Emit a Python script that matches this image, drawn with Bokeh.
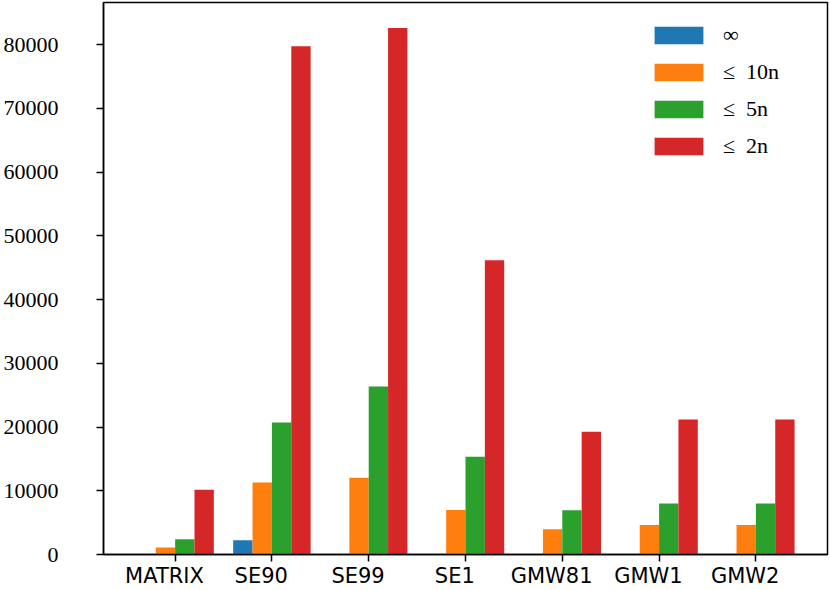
from bokeh.plotting import figure
from bokeh.models import (ColumnDataSource, Range1d, FixedTicker, Legend, LegendItem,
                          LinearAxis)
from bokeh.transform import dodge
from bokeh.embed import file_html
from bokeh.resources import INLINE

categories = ["MATRIX", "SE90", "SE99", "SE1", "GMW81", "GMW1", "GMW2"]
series_labels = ["∞", "≤\u200210n", "≤\u20025n", "≤\u20022n"]
inf_vals = [0, 2230, 60, 60, 60, 60, 60]
le10n_vals = [1080, 11300, 12050, 7000, 3960, 4640, 4640]
le5n_vals = [2400, 20700, 26350, 15350, 6950, 7990, 7990]
le2n_vals = [10150, 79750, 82600, 46150, 19270, 21160, 21160]
colors = ["#1f77b4", "#ff7f0e", "#2ca02c", "#d62728"]
y_ticks = [0, 10000, 20000, 30000, 40000, 50000, 60000, 70000, 80000]

src = ColumnDataSource(dict(
    x=list(range(len(categories))),
    s0=inf_vals, s1=le10n_vals, s2=le5n_vals, s3=le2n_vals,
))

X0, X1 = -0.74, 6.74
LABEL_SHIFT = 0.11  # tick labels sit slightly left of their ticks in the reference

p = figure(width=830, height=590, output_backend="svg", toolbar_location=None,
           x_range=Range1d(X0, X1), y_range=Range1d(0, 86600),
           x_axis_location=None,
           min_border_left=100, min_border_right=3, min_border_top=2, min_border_bottom=36)
p.extra_x_ranges = {"labels": Range1d(X0 + LABEL_SHIFT, X1 + LABEL_SHIFT)}

p.xgrid.visible = False
p.ygrid.visible = False
p.outline_line_color = "black"
p.outline_line_width = 1.5
p.outline_line_alpha = 1

offsets = [-0.3, -0.1, 0.1, 0.3]
renderers = []
for i, (col, off) in enumerate(zip(["s0", "s1", "s2", "s3"], offsets)):
    r = p.vbar(x=dodge("x", off), top=col, bottom=0, width=0.2, source=src,
               fill_color=colors[i], line_color=None)
    renderers.append(r)

cat_ticks = list(range(len(categories)))
# in the shifted "labels" range, the group centres sit at i + LABEL_SHIFT
tick_marks = [t + LABEL_SHIFT for t in cat_ticks]

x_axis = LinearAxis(x_range_name="labels",
                    ticker=FixedTicker(ticks=cat_ticks, minor_ticks=tick_marks),
                    major_label_overrides={i: c for i, c in enumerate(categories)},
                    major_label_text_font="DejaVu Sans", major_label_text_font_size="21px",
                    major_label_text_color="black", major_label_standoff=2,
                    major_tick_out=0, major_tick_in=0, major_tick_line_color=None,
                    minor_tick_out=7, minor_tick_in=0, minor_tick_line_width=1.5,
                    minor_tick_line_color="black",
                    axis_line_width=1.5, axis_line_color="black")
p.add_layout(x_axis, "below")

p.yaxis.ticker = FixedTicker(ticks=y_ticks)
p.yaxis.formatter.use_scientific = False
p.yaxis.major_label_text_font = "Liberation Serif"
p.yaxis.major_label_text_font_size = "22px"
p.yaxis.major_label_text_color = "black"
p.yaxis.major_tick_out = 7
p.yaxis.major_tick_in = 0
p.yaxis.minor_tick_out = 0
p.yaxis.minor_tick_in = 0
p.yaxis.major_label_standoff = 38
p.yaxis.axis_line_width = 1.5
p.yaxis.major_tick_line_width = 1.5

legend = Legend(items=[LegendItem(label=lab, renderers=[r]) for lab, r in zip(series_labels, renderers)],
                location=(545, 395))
legend.label_text_font = "Liberation Serif"
legend.label_text_font_size = "22px"
legend.label_text_color = "black"
legend.glyph_width = 61
legend.glyph_height = 22
legend.label_height = 17
legend.label_standoff = 14
legend.spacing = 11
legend.padding = 0
legend.margin = 0
legend.border_line_color = None
legend.background_fill_alpha = 0
p.add_layout(legend, "center")

open("out.html", "w").write(file_html(p, INLINE))
